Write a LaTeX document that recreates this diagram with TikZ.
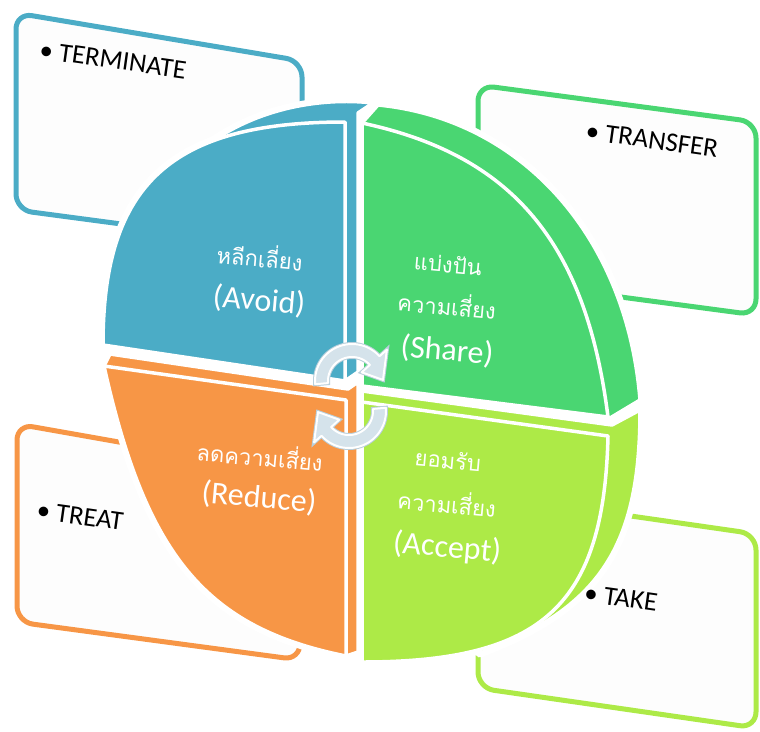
\documentclass[tikz,border=0pt]{standalone}
\usepackage{fontspec}
\setmainfont{Carlito}
\newfontfamily\thaifont[Script=Thai]{Loma}
\definecolor{cblue}{HTML}{4BACC6}
\definecolor{cgreen}{HTML}{4AD672}
\definecolor{clime}{HTML}{ADEA47}
\definecolor{corange}{HTML}{F79646}
\definecolor{boxfill}{HTML}{FDFDFD}
\definecolor{arrowfill}{HTML}{D5E3EB}
\definecolor{arrowedge}{HTML}{B9CFDB}
\tikzset{
  riskbox/.style={line width=5pt, rounded corners=16pt, fill=boxfill},
  halo/.style={draw=white, line width=9pt, line join=round},
  wedge/.style={draw=white, line width=3.5pt, line join=round},
  boxtext/.style={font=\fontsize{27}{32}\selectfont, text=black, rotate=-8, inner sep=0pt},
  qthai/.style={font=\thaifont\fontsize{22}{26}\selectfont, text=white, rotate=-5, inner sep=0pt},
  qlat/.style={font=\fontsize{32}{36}\selectfont, text=white, rotate=-5, inner sep=0pt},
  cyc/.style={fill=arrowfill, draw=white, line width=2pt, line join=round,
    preaction={draw=arrowedge, line width=4pt}},
}
\begin{document}
\begin{tikzpicture}[x=1pt,y=-1pt]
\useasboundingbox (0,0) rectangle (760,731);
% boxes
\draw[riskbox, draw=cblue] (16,13) -- (302,61) -- (302,248) -- (16,210) -- cycle;
\draw[riskbox, draw=cgreen] (478,85) -- (756,122) -- (756,315) -- (478,278) -- cycle;
\draw[riskbox, draw=corange] (17,424) -- (300,474) -- (300,660) -- (17,622) -- cycle;
\draw[riskbox, draw=clime] (478,494) -- (756,534) -- (756,728) -- (478,688) -- cycle;
% blue wedge
\path[halo] (345,381) -- (103,345) .. controls (103,184) and (171,122) .. (345,122) -- cycle;
\path[halo] (210,143) .. controls (265,104) and (330,98) .. (373,103) -- (358,113) -- (358,372) -- (345,381) -- (300,200) -- cycle;
\path[wedge, fill=cblue] (210,143) .. controls (265,104) and (330,98) .. (373,103) -- (358,113) -- (358,372) -- (345,381) -- (300,200) -- cycle;
\path[wedge, fill=cblue] (345,381) -- (103,345) .. controls (103,184) and (171,122) .. (345,122) -- cycle;
% green wedge
\path[halo] (362,386) -- (362,123) .. controls (512,155) and (586,242) .. (608,417) -- cycle;
\path[halo] (362,300) -- (362,123) -- (378,105) .. controls (522,119) and (627,237) .. (640,400) -- (610,418) -- (560,400) -- cycle;
\path[wedge, fill=cgreen] (362,300) -- (362,123) -- (378,105) .. controls (522,119) and (627,237) .. (640,400) -- (610,418) -- (560,400) -- cycle;
\path[wedge, fill=cgreen] (362,386) -- (362,123) .. controls (512,155) and (586,242) .. (608,417) -- cycle;
% orange wedge
\path[halo] (346,656) .. controls (206,628) and (146,556) .. (104,366) -- (346,400) -- cycle;
\path[halo] (104,366) -- (110,354) -- (348,389) -- (358,382) -- (358,652) -- (346,656) -- (300,500) -- cycle;
\path[wedge, fill=corange] (104,366) -- (110,354) -- (348,389) -- (358,382) -- (358,652) -- (346,656) -- (300,500) -- cycle;
\path[wedge, fill=corange] (346,656) .. controls (206,628) and (146,556) .. (104,366) -- (346,400) -- cycle;
% lime wedge
\path[halo] (362,662) -- (362,402) -- (608,436) .. controls (604,605) and (543,662) .. (362,662) -- cycle;
\path[halo] (362,402) -- (362,391) -- (612,425) -- (640,410) .. controls (640,546) and (600,608) .. (480,653) -- (450,600) -- cycle;
\path[wedge, fill=clime] (362,402) -- (362,391) -- (612,425) -- (640,410) .. controls (640,546) and (600,608) .. (480,653) -- (450,600) -- cycle;
\path[wedge, fill=clime] (362,662) -- (362,402) -- (608,436) .. controls (604,605) and (543,662) .. (362,662) -- cycle;
% wedge labels
\node[qthai] (avth) at (260,256) {หลีกเลี่ยง};
\node[qlat] (aven) at (259,301) {(Avoid)};
\node[qthai] (shth1) at (448,264) {แบ่งปัน};
\node[qthai] (shth2) at (447,304) {ความเสี่ยง};
\node[qlat] (shen) at (447,351) {(Share)};
\node[qthai] (reth) at (260,455) {ลดความเสี่ยง};
\node[qlat] (reen) at (259,498) {(Reduce)};
\node[qthai] (acth1) at (448,460) {ยอมรับ};
\node[qthai] (acth2) at (447,502) {ความเสี่ยง};
\node[qlat] (acen) at (447,548) {(Accept)};
% cycle arrows
\path[cyc] plot[domain=175:318,samples=40,variable=\t] ({352+37*cos(\t)},{381+37*sin(\t)}) -- ({352+47*cos(318)},{381+47*sin(318)}) -- ({352+31*cos(358)},{381+31*sin(358)}) -- ({352+13*cos(318)},{381+13*sin(318)}) -- plot[domain=318:175,samples=40,variable=\t] ({352+24*cos(\t)},{381+24*sin(\t)}) -- cycle;
\path[cyc] plot[domain=-5:138,samples=40,variable=\t] ({349+37*cos(\t)},{411+37*sin(\t)}) -- ({349+47*cos(138)},{411+47*sin(138)}) -- ({349+31*cos(178)},{411+31*sin(178)}) -- ({349+13*cos(138)},{411+13*sin(138)}) -- plot[domain=138:-5,samples=40,variable=\t] ({349+24*cos(\t)},{411+24*sin(\t)}) -- cycle;
% box texts
\node[boxtext] (term) at (113,60) {•~TERMINATE};
\node[boxtext] (trans) at (652,140) {•~TRANSFER};
\node[boxtext] (treat) at (80,516) {•~TREAT};
\node[boxtext] (take) at (621,598) {•~TAKE};
\end{tikzpicture}
\end{document}
